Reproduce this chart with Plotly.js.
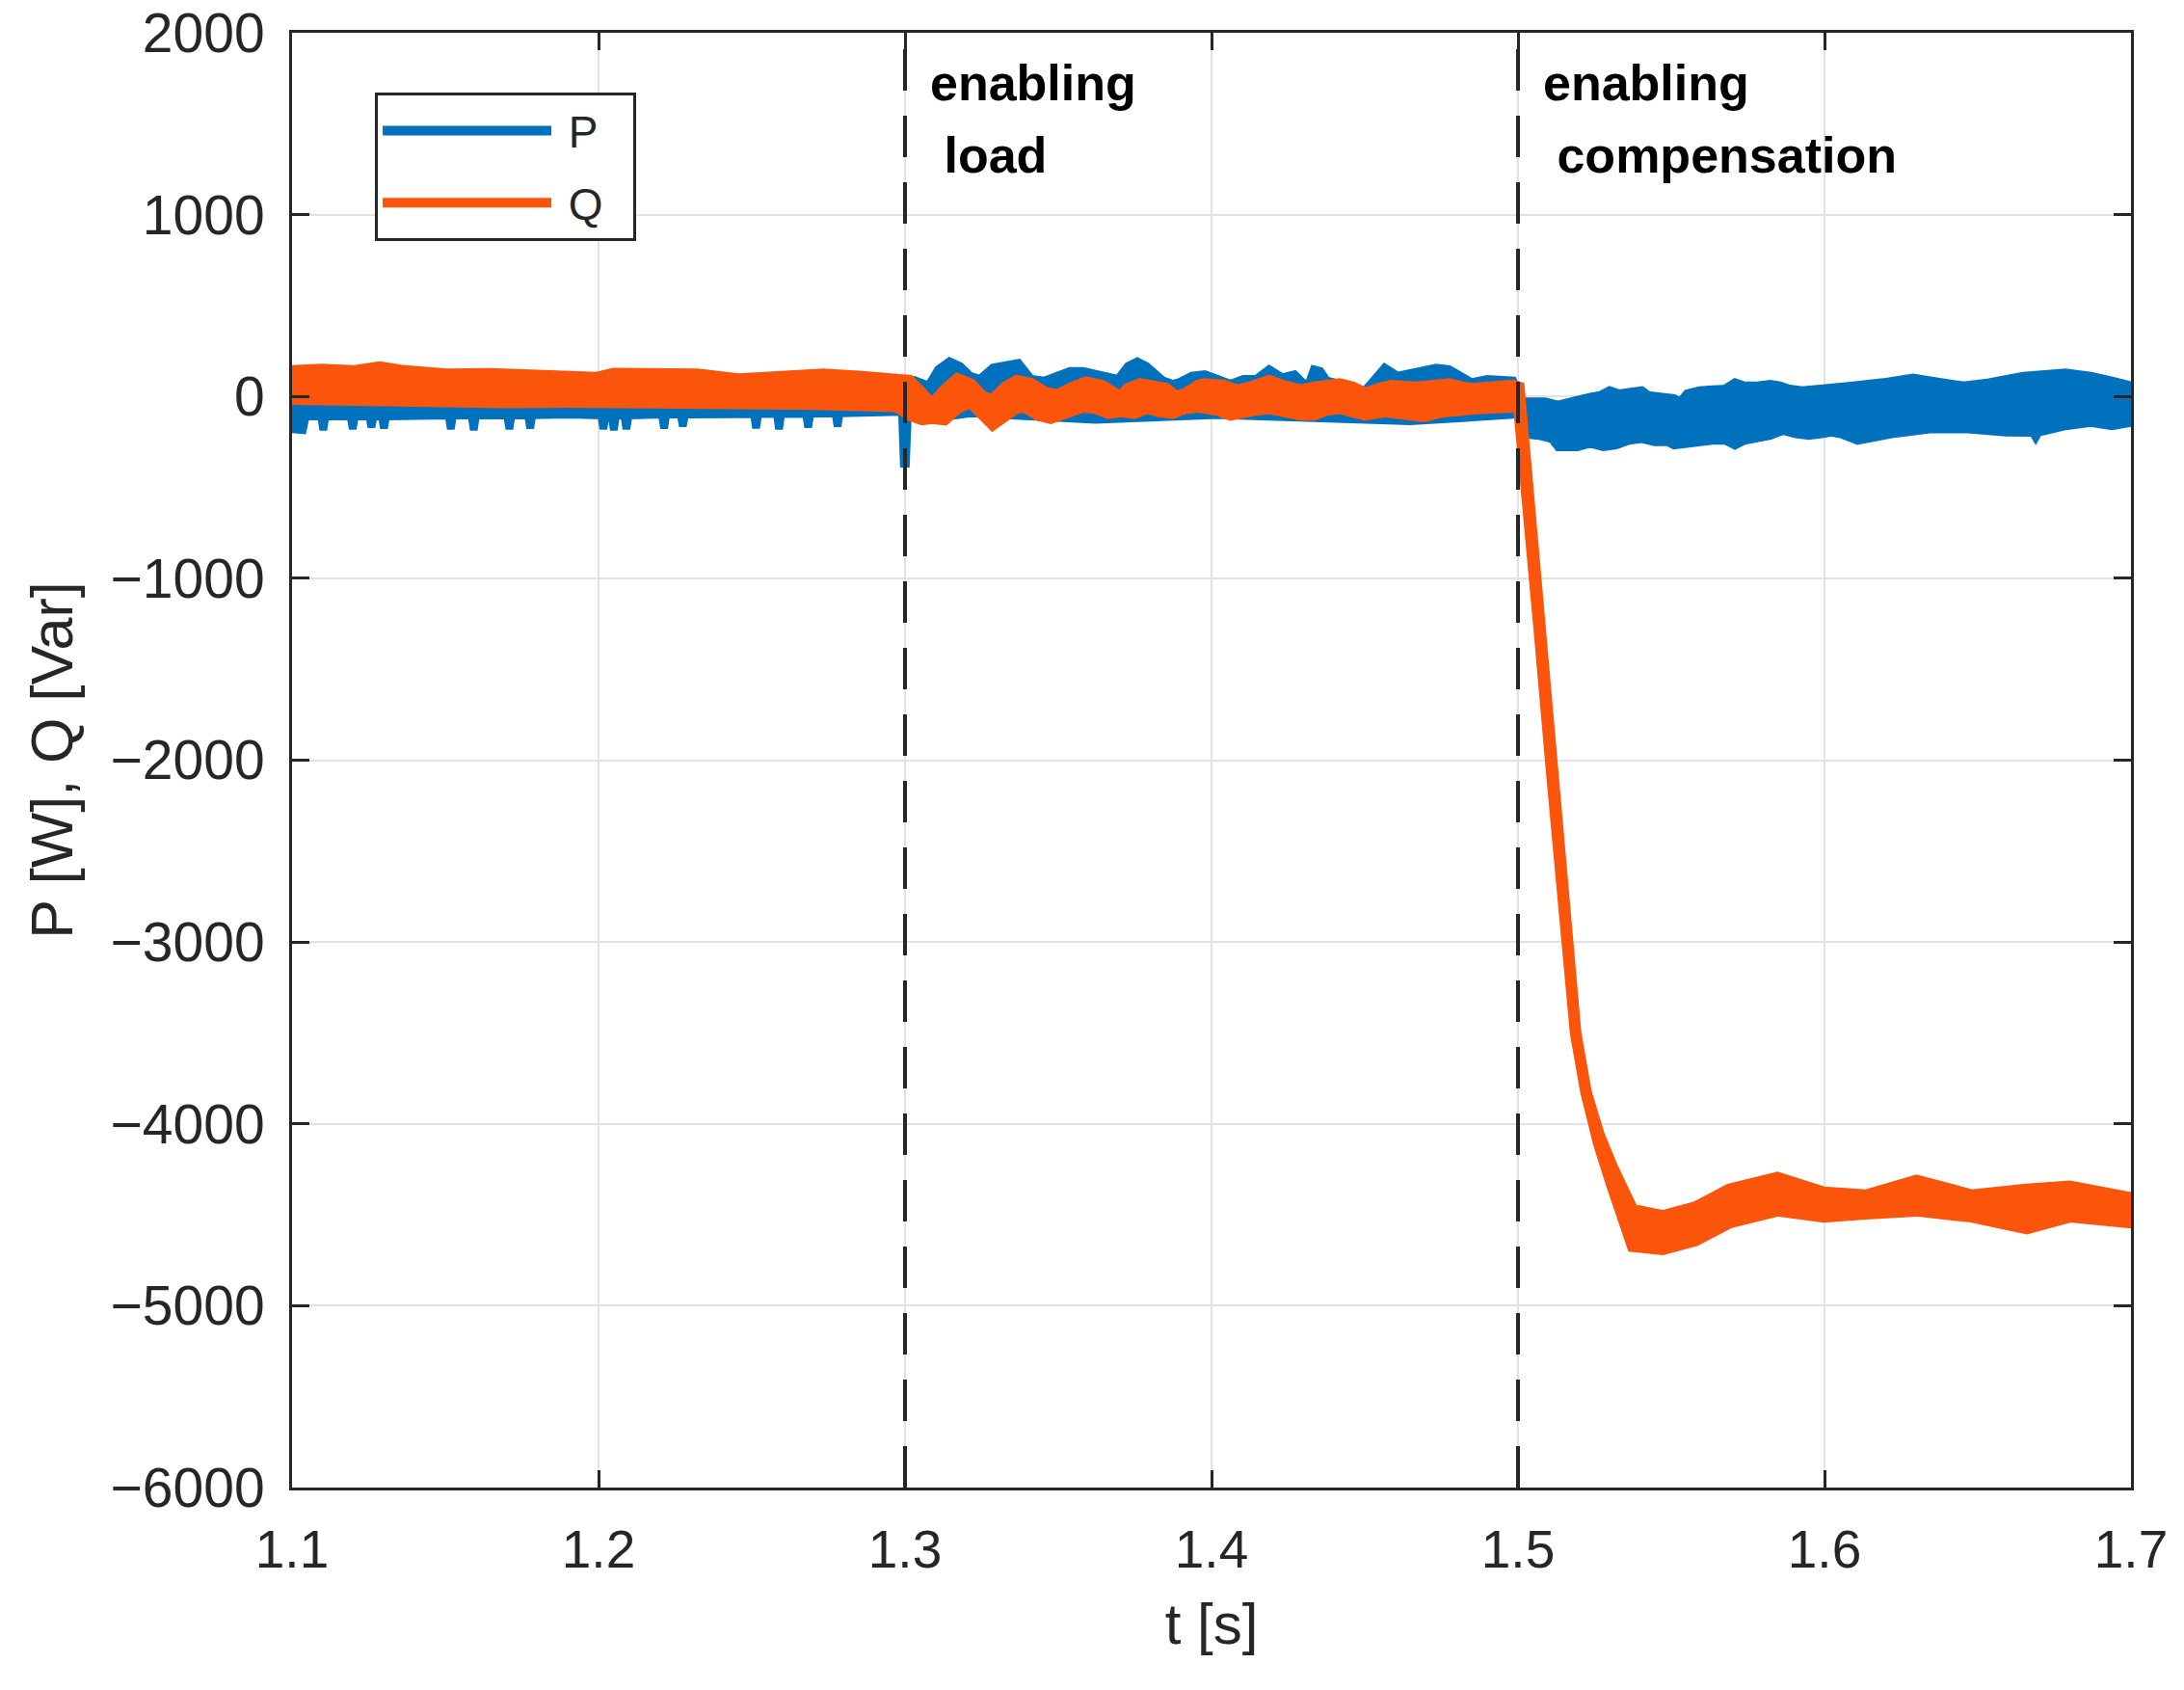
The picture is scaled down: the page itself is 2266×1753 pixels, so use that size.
<!DOCTYPE html>
<html>
<head>
<meta charset="utf-8">
<script src="https://cdn.plot.ly/plotly-3.0.1.min.js"></script>
<style>
  html, body { margin: 0; padding: 0; background: #ffffff; }
  #chart { width: 2266px; height: 1753px; }
</style>
</head>
<body>
<div id="chart"></div>
<script>
// P band: upper edge (t, value)
const pHiT = [1.1000, 1.1500, 1.2000, 1.2500, 1.2985,
              1.3010, 1.3035, 1.3077, 1.3108, 1.3145, 1.3181, 1.3213, 1.3244, 1.3286, 1.3328,
              1.3370, 1.3412, 1.3454, 1.3496, 1.3538, 1.3580, 1.3622, 1.3664, 1.3695, 1.3727,
              1.3758, 1.3789, 1.3821, 1.3842, 1.3873, 1.3894, 1.3936, 1.3978, 1.4020, 1.4062,
              1.4104, 1.4146, 1.4188, 1.4230, 1.4271, 1.4313, 1.4334, 1.4355, 1.4376, 1.4418,
              1.4460, 1.4492, 1.4523, 1.4565, 1.4607, 1.4649, 1.4691, 1.4733, 1.4775, 1.4817,
              1.4848, 1.4900, 1.4942, 1.4984,
              1.5016, 1.5047, 1.5089, 1.5131, 1.5162, 1.5194, 1.5236, 1.5267, 1.5299, 1.5330,
              1.5362, 1.5404, 1.5425, 1.5467, 1.5509, 1.5530, 1.5551, 1.5592, 1.5634, 1.5676,
              1.5708, 1.5739, 1.5781, 1.5823, 1.5854, 1.5886, 1.5928, 1.5970, 1.6022, 1.6094,
              1.6191, 1.6288, 1.6385, 1.6454, 1.6537, 1.6648, 1.6786, 1.6869, 1.6938, 1.7000];
const pHi  = [-20, -20, -20, -25, -30,
              15, 88, 61, 150, 194, 167, 114, 97, 159, 167,
              185, 97, 88, 114, 141, 141, 123, 106, 97, 167,
              194, 167, 114, 88, 70, 79, 114, 123, 97, 70,
              97, 97, 150, 106, 123, 53, 150, 141, 88, 70,
              53, 17, 79, 159, 114, 132, 150, 159, 150, 114,
              79, 97, 97, 88,
              -27, -27, -27, -45, -36, -18, -1, 8, 35, 17,
              26, 35, 8, -1, -9, -27, 17, 35, 44, 44,
              79, 61, 61, 70, 61, 44, 35, 44, 53, 61,
              79, 105, 79, 61, 79, 114, 132, 114, 88, 61];

// P band: lower edge (t, value)
const pLoT = [1.1000, 1.1035, 1.1045, 1.1095, 1.1102, 1.1109, 1.1191, 1.1198, 1.1205, 1.1252,
              1.1259, 1.1266, 1.1293, 1.1300, 1.1307, 1.1400, 1.1511, 1.1518, 1.1525, 1.1586,
              1.1593, 1.1600, 1.1702, 1.1709, 1.1716, 1.1770, 1.1777, 1.1784, 1.1900, 1.2009,
              1.2016, 1.2023, 1.2043, 1.2050, 1.2057, 1.2084, 1.2091, 1.2098, 1.2207, 1.2214,
              1.2221, 1.2268, 1.2275, 1.2282, 1.2400, 1.2507, 1.2514, 1.2521, 1.2582, 1.2589,
              1.2596, 1.2677, 1.2684, 1.2691, 1.2773, 1.2780, 1.2787, 1.2900, 1.2990, 1.2996,
              1.3003, 1.3010, 1.3059, 1.3213, 1.3422, 1.3622, 1.3821, 1.4020, 1.4649, 1.4998,
              1.5016, 1.5068, 1.5110, 1.5131, 1.5194, 1.5236, 1.5278, 1.5320, 1.5362, 1.5404,
              1.5446, 1.5488, 1.5509, 1.5551, 1.5592, 1.5634, 1.5676, 1.5708, 1.5739, 1.5781,
              1.5823, 1.5865, 1.5907, 1.5949, 1.5991, 1.6022, 1.6053, 1.6108, 1.6219, 1.6343,
              1.6468, 1.6592, 1.6680, 1.6689, 1.6698, 1.6786, 1.6869, 1.6938, 1.7000];
const pLo  = [-180, -185, -110, -110, -185, -110, -110, -180, -110, -110,
              -170, -110, -110, -175, -110, -105, -105, -180, -105, -105,
              -185, -105, -105, -180, -105, -103, -175, -103, -100, -105,
              -180, -105, -105, -185, -105, -105, -180, -105, -100, -175,
              -100, -100, -165, -100, -95, -97, -175, -97, -97, -180,
              -97, -95, -170, -95, -93, -165, -93, -90, -85, -370,
              -370, -70, -129, -93, -111, -129, -111, -102, -137, -100,
              -208, -217, -235, -279, -279, -261, -279, -270, -244, -235,
              -252, -252, -270, -261, -252, -244, -244, -270, -244, -235,
              -217, -190, -208, -217, -208, -199, -208, -244, -208, -182,
              -182, -199, -200, -226, -200, -164, -146, -164, -146];

// Q band: upper edge (t, value)
const qHiT = [1.1000, 1.1095, 1.1200, 1.1286, 1.1368, 1.1504, 1.1650, 1.1777, 1.1900, 1.1995,
              1.2050, 1.2200, 1.2323, 1.2459, 1.2600, 1.2732, 1.2850, 1.2972, 1.3014, 1.3056,
              1.3087, 1.3129, 1.3171, 1.3213, 1.3255, 1.3286, 1.3328, 1.3365, 1.3412, 1.3454,
              1.3496, 1.3538, 1.3590, 1.3643, 1.3685, 1.3695, 1.3727, 1.3768, 1.3810, 1.3852,
              1.3884, 1.3915, 1.3957, 1.3978, 1.4041, 1.4083, 1.4125, 1.4188, 1.4230, 1.4292,
              1.4334, 1.4418, 1.4460, 1.4502, 1.4544, 1.4586, 1.4670, 1.4712, 1.4775, 1.4817,
              1.4858, 1.4900, 1.4942, 1.4984, 1.5003, 1.5015, 1.5028, 1.5070, 1.5112, 1.5153,
              1.5188, 1.5222, 1.5264, 1.5305, 1.5347, 1.5374, 1.5472, 1.5580, 1.5690, 1.5846,
              1.5997, 1.6136, 1.6300, 1.6480, 1.6660, 1.6800, 1.7000];
const qHi  = [140, 149, 140, 161, 140, 122, 125, 122, 115, 104,
              126, 120, 122, 95, 110, 122, 110, 87, 87, 16,
              -46, 34, 96, 69, -2, -19, 51, 87, 69, 25,
              7, 43, 78, 60, 16, -19, 43, 69, 60, 43,
              -2, 16, 60, 69, 60, 34, 51, 87, 60, 34,
              51, 69, 51, 16, 43, 60, 51, 60, 69, 51,
              43, 51, 60, 60, 50, -180, -477, -1292, -2105, -2916,
              -3501, -3826, -4060, -4230, -4380, -4473, -4506, -4457, -4360, -4295,
              -4376, -4392, -4311, -4392, -4360, -4343, -4408];

// Q band: lower edge (t, value)
const qLoT = [1.1000, 1.1100, 1.1300, 1.1500, 1.1700, 1.1900, 1.2100, 1.2300, 1.2500, 1.2700,
              1.2972, 1.3014, 1.3056, 1.3087, 1.3129, 1.3171, 1.3213, 1.3244, 1.3286, 1.3318,
              1.3360, 1.3391, 1.3433, 1.3475, 1.3517, 1.3580, 1.3622, 1.3664, 1.3706, 1.3748,
              1.3789, 1.3831, 1.3873, 1.3915, 1.3957, 1.4020, 1.4062, 1.4104, 1.4146, 1.4188,
              1.4251, 1.4292, 1.4334, 1.4376, 1.4418, 1.4460, 1.4502, 1.4565, 1.4628, 1.4691,
              1.4754, 1.4817, 1.4879, 1.4921, 1.4984, 1.5003, 1.5015, 1.5028, 1.5070, 1.5112,
              1.5153, 1.5188, 1.5222, 1.5264, 1.5305, 1.5347, 1.5374, 1.5472, 1.5580, 1.5690,
              1.5846, 1.5997, 1.6136, 1.6300, 1.6480, 1.6660, 1.6800, 1.7000];
const qLo  = [-15, -25, -30, -27, -33, -30, -35, -40, -37, -43,
              -55, -101, -127, -119, -127, -65, -30, -83, -154, -119,
              -65, -57, -101, -119, -92, -57, -65, -92, -83, -92,
              -65, -83, -92, -65, -57, -74, -101, -92, -74, -65,
              -92, -101, -101, -74, -65, -83, -101, -83, -101, -110,
              -83, -74, -65, -57, -57, -60, -180, -477, -1292, -2105,
              -2916, -3501, -3826, -4110, -4330, -4520, -4673, -4690, -4641, -4543,
              -4478, -4511, -4494, -4478, -4511, -4576, -4511, -4543];

const eventTimes = [1.3, 1.5];
const eventLines = [['enabling', '\u00a0load'], ['enabling', '\u00a0compensation']];
const lineLevels = [1726, 1327];

const colorP = '#0072BD';
const colorQ = '#FA550A';
const font = 'Liberation Sans, Arial, Helvetica, sans-serif';

// closed outline: upper edge forward, lower edge back
function band(tHi, hi, tLo, lo) {
    return {
        x: tHi.concat(tLo.slice().reverse()),
        y: hi.concat(lo.slice().reverse())
    };
}

const pBand = band(pHiT, pHi, pLoT, pLo);
const qBand = band(qHiT, qHi, qLoT, qLo);

const traces = [
    {
        x: pBand.x, y: pBand.y, type: 'scatter', mode: 'lines',
        fill: 'toself', fillcolor: colorP,
        line: { color: colorP, width: 8 },
        showlegend: false, hoverinfo: 'skip'
    },
    {
        x: qBand.x, y: qBand.y, type: 'scatter', mode: 'lines',
        fill: 'toself', fillcolor: colorQ,
        line: { color: colorQ, width: 12 },
        showlegend: false, hoverinfo: 'skip'
    },
    // legend entries only
    { x: [null], y: [null], type: 'scatter', mode: 'lines', name: '\u00a0P\u00a0\u00a0',
      line: { color: colorP, width: 12 }, legendgroup: 'p' },
    { x: [null], y: [null], type: 'scatter', mode: 'lines', name: '\u00a0Q\u00a0\u00a0',
      line: { color: colorQ, width: 12 }, legendgroup: 'q' }
];

const axisCommon = {
    showline: true,
    linecolor: '#262626',
    linewidth: 3,
    mirror: 'ticks',
    ticks: 'inside',
    ticklen: 18,
    tickwidth: 3,
    tickcolor: '#262626',
    showgrid: true,
    gridcolor: '#e2e2e2',
    gridwidth: 2,
    zeroline: false
};

const annotations = [];
eventTimes.forEach((t, i) => {
    eventLines[i].forEach((txt, j) => {
        annotations.push({
            x: t + 0.0074, y: lineLevels[j], xref: 'x', yref: 'y',
            text: txt, showarrow: false,
            xanchor: 'left', yanchor: 'middle', align: 'left',
            font: { family: font, size: 52, color: '#000000', weight: 'bold' }
        });
    });
});

const layout = {
    width: 2266,
    height: 1753,
    margin: { l: 303, r: 55, t: 34, b: 210 },
    paper_bgcolor: '#ffffff',
    plot_bgcolor: '#ffffff',
    hovermode: false,
    xaxis: Object.assign({}, axisCommon, {
        range: [1.1, 1.7],
        tick0: 1.1,
        dtick: 0.1,
        ticklabelstandoff: 14,
        tickfont: { family: font, size: 55, color: '#262626' },
        title: { text: 't [s]', font: { family: font, size: 60, color: '#262626' }, standoff: 26 }
    }),
    yaxis: Object.assign({}, axisCommon, {
        range: [-6000, 2000],
        dtick: 1000,
        ticklabelstandoff: 14,
        tickfont: { family: font, size: 57, color: '#262626' },
        title: { text: 'P [W], Q [Var]', font: { family: font, size: 61, color: '#262626' }, standoff: 20 }
    }),
    legend: {
        x: 0.0451, y: 0.9589, xanchor: 'left', yanchor: 'top',
        bgcolor: '#ffffff', bordercolor: '#262626', borderwidth: 3,
        font: { family: font, size: 46, color: '#262626' },
        itemwidth: 175,
        traceorder: 'grouped',
        tracegroupgap: 12
    },
    shapes: eventTimes.map(t => ({
        type: 'line', xref: 'x', yref: 'paper',
        x0: t, x1: t, y0: 0, y1: 1,
        layer: 'above',
        line: { color: '#262626', width: 4, dash: '43px,26px' }
    })),
    annotations: annotations
};

Plotly.newPlot('chart', traces, layout, { displayModeBar: false, staticPlot: true });
</script>
</body>
</html>
